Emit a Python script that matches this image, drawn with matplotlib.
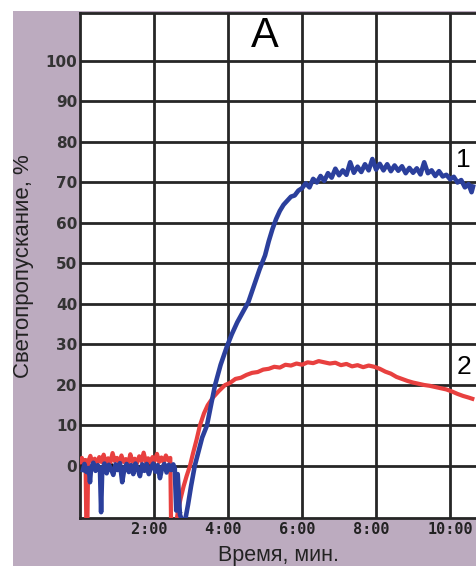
import matplotlib
matplotlib.use('Agg')
import matplotlib.pyplot as plt
from matplotlib.patches import Rectangle

# curve 1 (blue), minutes / %
blue_t = [0.08, 0.12, 0.18, 0.24, 0.27, 0.30, 0.36, 0.42, 0.48, 0.54, 0.57, 0.60, 0.66, 0.72,
          0.78, 0.84, 0.90, 0.96, 1.02, 1.08, 1.14, 1.20, 1.26, 1.32, 1.38, 1.44, 1.50, 1.56,
          1.62, 1.68, 1.74, 1.80, 1.86, 1.92, 1.98, 2.04, 2.10, 2.16, 2.22, 2.28, 2.34, 2.40,
          2.46, 2.52, 2.56, 2.60, 2.64, 2.70, 2.76, 2.84,
          2.92, 3.00, 3.10, 3.20, 3.30, 3.43, 3.55, 3.65, 3.80, 3.97, 4.10, 4.25, 4.40, 4.55,
          4.70, 4.85, 5.00, 5.10, 5.20, 5.30, 5.40, 5.50, 5.60, 5.70, 5.80, 5.90, 6.00,
          6.10, 6.20, 6.30, 6.40, 6.50, 6.60, 6.70, 6.80, 6.90, 7.00, 7.10, 7.20, 7.30, 7.40,
          7.50, 7.60, 7.70, 7.80, 7.90, 8.00, 8.10, 8.20, 8.30, 8.40, 8.50, 8.60, 8.70, 8.80,
          8.90, 9.00, 9.10, 9.20, 9.30, 9.40, 9.50, 9.60, 9.70, 9.80, 9.90, 10.00, 10.10,
          10.20, 10.30, 10.40, 10.50, 10.58, 10.62]
blue_v = [-1.0, 0.5, -1.5, -0.5, -4.0, -0.5, 0.8, -1.2, 0.2, -1.0, -11.4, -1.0, 0.6, -1.8,
          0.3, -0.8, -2.2, 0.4, -1.0, 0.7, -4.0, -0.6, 0.5, -1.5, 0.2, -2.0, 0.6, -0.8,
          -2.5, 0.4, -1.2, 0.5, -2.0, -0.3, 0.6, -1.4, 0.2, -3.0, -0.4, 0.5, -1.6, 0.3,
          -1.0, 0.4, -0.5, -11.0, -2.0, -12.0, -13.5, -13.5,
          -9.5, -5.0, 0.0, 3.5, 7.0, 10.0, 15.5, 20.0, 25.0, 29.5, 32.5, 35.5, 38.0, 40.5,
          44.5, 48.5, 52.0, 55.5, 58.5, 61.0, 63.0, 64.5, 65.5, 66.5, 66.8, 68.0, 68.6,
          69.8, 68.8, 70.9, 70.0, 71.6, 70.4, 72.3, 71.2, 73.4, 71.8, 73.0, 71.9, 75.0, 72.4,
          73.9, 72.6, 74.5, 73.0, 75.8, 73.2, 74.6, 73.0, 74.5, 72.8, 74.2, 72.9, 74.0, 72.3,
          73.6, 72.4, 73.5, 72.0, 75.0, 72.3, 73.0, 71.6, 72.8, 71.5, 71.9, 70.8, 71.4,
          70.0, 70.6, 68.8, 69.6, 67.6, 69.0]

# curve 2 (red)
red_t = [0.00, 0.05, 0.10, 0.15, 0.17, 0.20, 0.22, 0.28, 0.34, 0.40, 0.46, 0.52, 0.58, 0.64,
         0.70, 0.76, 0.82, 0.88, 0.94, 1.00, 1.06, 1.12, 1.18, 1.24, 1.30, 1.36, 1.42, 1.48,
         1.54, 1.60, 1.66, 1.72, 1.78, 1.84, 1.90, 1.96, 2.02, 2.08, 2.14, 2.20, 2.26, 2.32,
         2.38, 2.44, 2.46, 2.60, 2.65, 2.72, 2.80, 2.88, 2.97, 3.05, 3.15, 3.24, 3.35, 3.45,
         3.60, 3.75, 3.92, 4.05, 4.20, 4.35, 4.50, 4.65, 4.80, 4.95, 5.10, 5.25, 5.40, 5.55,
         5.70, 5.85, 6.00, 6.15, 6.30, 6.45, 6.60, 6.75, 6.90, 7.05, 7.20, 7.35, 7.50, 7.65,
         7.80, 7.95, 8.10, 8.25, 8.40, 8.55, 8.70, 8.85, 9.00, 9.15, 9.30, 9.45, 9.60, 9.75,
         9.90, 10.05, 10.20, 10.35, 10.50, 10.60]
red_v = [1.0, 2.0, 0.5, 1.5, -14.0, -14.0, 1.0, 2.5, 0.8, 1.8, 0.5, 2.2, 1.0, 2.8,
         0.6, 1.9, 0.9, 3.2, 1.2, 2.0, 0.8, 2.6, 1.0, 1.7, 0.5, 2.9, 1.1, 1.8,
         0.7, 2.4, 1.2, 3.3, 1.0, 1.9, 0.8, 2.2, 1.3, 3.0, 1.0, 2.1, 0.9, 2.6,
         1.4, 2.0, -14.0, -14.0, -11.0, -8.0, -5.0, -2.5, 0.0, 3.0, 6.5, 10.0, 13.0, 15.0,
         17.0, 18.5, 20.0, 20.5, 21.5, 21.8, 22.5, 23.0, 23.2, 23.8, 24.0, 24.5, 24.3, 25.0,
         24.8, 25.3, 25.0, 25.6, 25.4, 25.9, 25.6, 25.3, 25.5, 24.9, 25.2, 24.6, 24.9, 24.4,
         24.8, 24.5, 24.0, 23.3, 22.8, 22.0, 21.5, 21.0, 20.6, 20.3, 20.0, 19.8, 19.5, 19.2,
         18.9, 18.4, 17.8, 17.3, 16.9, 16.6]

# black baseline trace
black_t = [0.05, 0.15, 0.25, 0.35, 0.45, 0.55, 0.65, 0.75, 0.85, 0.95, 1.05, 1.15, 1.25, 1.35,
           1.45, 1.55, 1.65, 1.75, 1.85, 1.95, 2.05, 2.15, 2.25, 2.35, 2.45, 2.55, 2.62, 2.68, 2.74]
black_v = [0.4, -0.6, 0.3, -0.4, 0.5, -0.8, 0.2, -0.5, 0.6, -0.3, 0.1, -0.9, 0.4, -0.2,
           0.5, -0.7, 0.2, -0.4, 0.6, -0.6, 0.3, -0.5, 0.1, -0.8, 0.4, -0.3, -4.0, -10.0, -11.5]

x_ticks = [2, 4, 6, 8, 10]
x_labels = ['2:00 ', '4:00 ', '6:00 ', '8:00 ', '10:00']
y_ticks = [0, 10, 20, 30, 40, 50, 60, 70, 80, 90, 100]

W, H = 476, 566
fig = plt.figure(figsize=(W / 100, H / 100), dpi=100, facecolor='white')
fig.patches.append(Rectangle((13 / W, 0), 1 - 13 / W, 1 - 11 / H, transform=fig.transFigure,
                             facecolor='#bcabbf', edgecolor='none', zorder=-5))

ax = fig.add_axes([80 / W, 1 - 518 / H, (W - 80) / W, (518 - 13) / H])
ax.set_facecolor('white')

ax.plot(black_t, black_v, color='#111111', lw=1.2, zorder=3)
ax.plot(red_t, red_v, color='#e8403f', lw=3.0, zorder=4)
ax.plot(blue_t, blue_v, color='#2b3f9c', lw=3.3, zorder=5)

ax.set_xlim(0, 10.7)
ax.set_ylim(-12.84, 111.85)
ax.set_xticks(x_ticks)
ax.set_xticklabels(x_labels, family='DejaVu Sans Mono', fontweight='bold', fontsize=11, color='#222222')
ax.set_yticks(y_ticks)
ax.set_yticklabels([str(v) for v in y_ticks], family='DejaVu Sans', fontweight='bold',
                   fontsize=11, color='#333333')
ax.tick_params(axis='both', length=0)
ax.tick_params(axis='y', pad=2)
ax.tick_params(axis='x', pad=3)
ax.grid(True, color='#262626', lw=2.0)
ax.set_axisbelow(True)
for side in ['left', 'bottom', 'top']:
    ax.spines[side].set_color('#262626')
    ax.spines[side].set_linewidth(2.0)
ax.spines['right'].set_visible(False)

ax.text(265, H - 36, 'A', transform=None, fontsize=30, family='Liberation Sans', ha='center', va='center')
ax.text(10.17, 72.5, '1', fontsize=19, family='Liberation Sans', ha='left', va='bottom')
ax.text(10.17, 21.5, '2', fontsize=19, family='Liberation Sans', ha='left', va='bottom')

fig.text(24 / W, 1 - 266 / H, 'Светопропускание, %', rotation=90, ha='center', va='center',
         fontsize=16, family='Liberation Sans', color='#222222')
fig.text(278.5 / W, 1 - 555 / H, 'Время, мин.', ha='center', va='center',
         fontsize=15.5, family='Liberation Sans', color='#222222')

fig.savefig('out.png', dpi=100)
